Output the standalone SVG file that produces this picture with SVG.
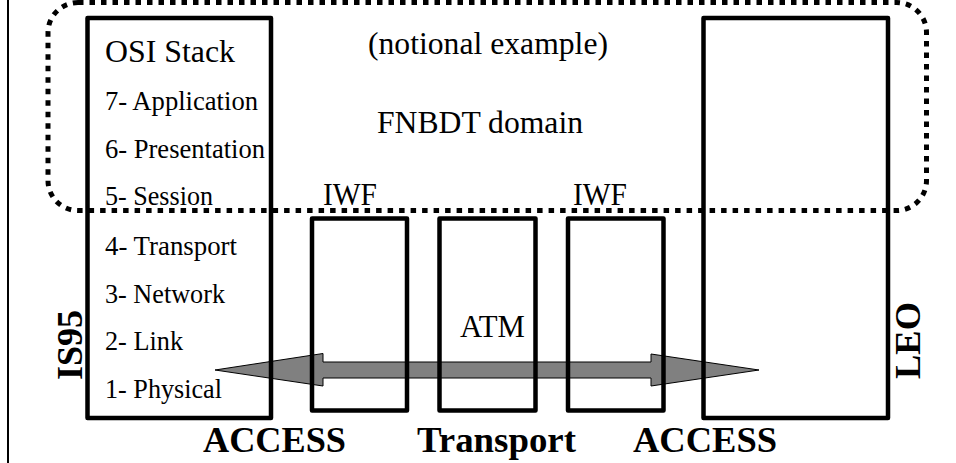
<svg xmlns="http://www.w3.org/2000/svg" width="956" height="463" viewBox="0 0 956 463">
<style>
.box{fill:none;stroke:#000;stroke-width:4.5;stroke-linejoin:round}
.dom{fill:none;stroke:#000;stroke-width:5;stroke-dasharray:5.5 6}
text{font-family:'Liberation Serif',serif;fill:#000}
.l{font-size:26.5px}
.h{font-size:31.5px}
.b{font-size:36px;font-weight:bold}
.m{text-anchor:middle}
</style>
<rect width="956" height="463" fill="#fff"/>
<line x1="8" y1="0" x2="8" y2="463" stroke="#000" stroke-width="2"/>
<g id="connectors">
<polygon points="215,370 323,353.5 323,362 651,362 651,354 759,370 651,386 651,378 323,378 323,386" fill="#808080" stroke="#000" stroke-width="1"/>
</g>
<g id="osi-stack" font-family="Liberation Serif, serif">
<rect class="box" x="87.5" y="18" width="183.5" height="400"/>
<text class="h" x="105" y="62" textLength="130" lengthAdjust="spacingAndGlyphs">OSI Stack</text>
<text class="l" x="105" y="110" textLength="153" lengthAdjust="spacingAndGlyphs">7- Application</text>
<text class="l" x="105" y="158" textLength="160" lengthAdjust="spacingAndGlyphs">6- Presentation</text>
<text class="l" x="105" y="205" textLength="108" lengthAdjust="spacingAndGlyphs">5- Session</text>
<text class="l" x="105" y="255" textLength="132" lengthAdjust="spacingAndGlyphs">4- Transport</text>
<text class="l" x="105" y="303" textLength="120" lengthAdjust="spacingAndGlyphs">3- Network</text>
<text class="l" x="105" y="350" textLength="78" lengthAdjust="spacingAndGlyphs">2- Link</text>
<text class="l" x="105" y="398" textLength="117" lengthAdjust="spacingAndGlyphs">1- Physical</text>
<text class="b m" transform="translate(82,345) rotate(-90)" textLength="70" lengthAdjust="spacingAndGlyphs">IS95</text>
</g>
<g id="iwf1">
<rect class="box" x="312" y="218.5" width="95" height="192"/>
<text class="h m" x="350" y="205" textLength="54" lengthAdjust="spacingAndGlyphs">IWF</text>
</g>
<g id="atm">
<rect class="box" x="439.5" y="218.5" width="96" height="192"/>
<text class="h m" x="492.5" y="337" textLength="65" lengthAdjust="spacingAndGlyphs">ATM</text>
</g>
<g id="iwf2">
<rect class="box" x="568" y="218.5" width="95.5" height="192"/>
<text class="h m" x="600" y="205" textLength="54" lengthAdjust="spacingAndGlyphs">IWF</text>
</g>
<g id="leo">
<rect class="box" x="703.5" y="18" width="184.5" height="400"/>
<text class="b m" transform="translate(920,340.5) rotate(-90)" textLength="77" lengthAdjust="spacingAndGlyphs">LEO</text>
</g>
<g id="fnbdt-domain">
<rect class="dom" x="48" y="2.5" width="878.5" height="208" rx="30" ry="30"/>
<text class="h m" x="488" y="54" textLength="240" lengthAdjust="spacingAndGlyphs">(notional example)</text>
<text class="h m" x="480" y="133" textLength="206" lengthAdjust="spacingAndGlyphs">FNBDT domain</text>
</g>
<g id="segments">
<text class="b m" x="274.5" y="452" textLength="143" lengthAdjust="spacingAndGlyphs">ACCESS</text>
<text class="b m" x="496.5" y="452" textLength="159" lengthAdjust="spacingAndGlyphs">Transport</text>
<text class="b m" x="705" y="452" textLength="144" lengthAdjust="spacingAndGlyphs">ACCESS</text>
</g>
</svg>
